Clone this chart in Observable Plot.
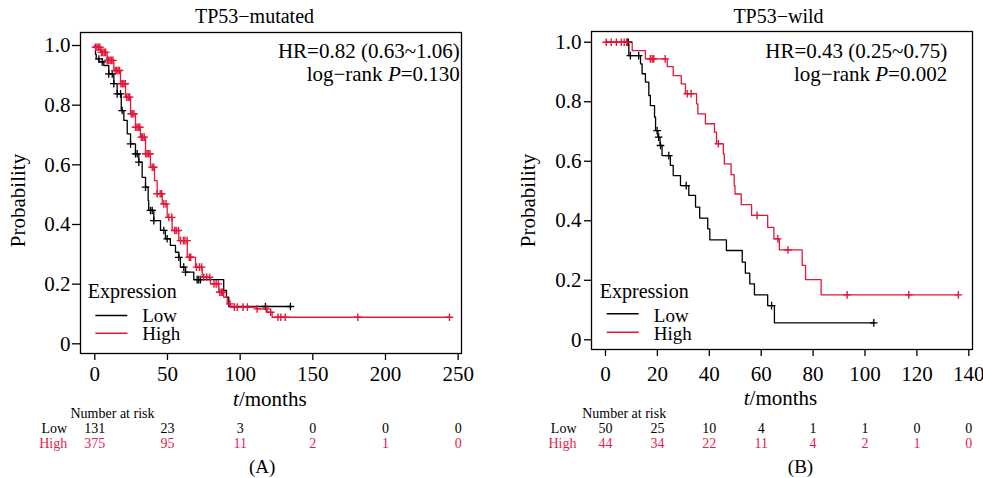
<!DOCTYPE html>
<html><head><meta charset="utf-8">
<script src="https://cdn.jsdelivr.net/npm/d3@7"></script>
<script src="https://cdn.jsdelivr.net/npm/@observablehq/plot@0.6"></script>
<style>
body{margin:0;background:#fff;}
#wrap{position:relative;width:983px;height:478px;overflow:hidden;}
#wrap svg{position:absolute;top:0;}
#wrap svg text{font-family:"Liberation Serif",serif !important;}
</style></head><body><div id="wrap"></div>
<script>
// ---------- Panel A: TP53-mutated ----------
const aTitle = "TP53−mutated";
const aHR = "HR=0.82 (0.63~1.06)";
const aP = "0.130";
const aLowT = [0,0.5,1,3,6.2,9.6,13.1,15.4,18.2,20,22.3,24.6,28,30.3,32.6,34.9,36.7,37.1,40.6,45.2,48.6,52,55.5,57.8,58.9,62.4,68.1,88.7,90.6,92.2,134.6];
const aLowS = [1,0.97,0.955,0.945,0.933,0.905,0.872,0.838,0.782,0.749,0.704,0.670,0.637,0.609,0.558,0.525,0.48,0.447,0.413,0.38,0.352,0.33,0.307,0.29,0.257,0.24,0.215,0.179,0.156,0.125,0.125];
const aHighT = [0,0.5,3.9,8.5,13.1,17.7,21.1,24.6,28,31.4,34.9,38.3,41.1,42.9,46.4,49.8,53.2,57.8,63.6,69.3,73.9,79.6,85.3,88.7,91.1,93.4,111.7,118.6,122,244];
const aHighS = [1,0.994,0.977,0.95,0.916,0.872,0.827,0.771,0.726,0.693,0.637,0.592,0.547,0.503,0.469,0.424,0.38,0.346,0.29,0.257,0.223,0.201,0.173,0.156,0.134,0.123,0.117,0.106,0.089,0.089];
const aLowCensor = [2.8,5.1,9.6,12,13.1,15.4,17.7,18.8,24.6,28,29.2,30.3,34.9,38.3,39.5,40.6,47.5,49.8,57.8,61.2,62.4,70.4,71.5,72.7,117.4,134.6];
const aHighCensor = [0.5,1.5,2.5,3.5,4.5,5.5,6.5,7.5,8.5,9.5,10.5,11.5,12.5,14,15,16,17,18,19,20,21,22,23,24,25,26,27,28,29,30,31,32,33,34,35,36,37,38,39.5,40.6,42.9,45,46,47.5,49,50.9,53,55,56,57.5,59,61,62,63.5,65,66,70,72,73.5,75,77,79,82,83.5,85,86,87,88,93,96,98,102,105,111.7,118,121,126,128,131,181,244];
const aRiskTimes = [0,50,100,150,200,250];
const aRiskLow = [131,23,3,0,0,0];
const aRiskHigh = [375,95,11,2,1,0];
const aXTicks = [0,50,100,150,200,250];

// ---------- Panel B: TP53-wild ----------
const bTitle = "TP53−wild";
const bHR = "HR=0.43 (0.25~0.75)";
const bP = "0.002";
const bLowT = [0,9,13.5,14.1,15.4,16.7,17.3,18.9,19.3,20.2,21,21.8,25,26.1,28.9,32.1,34.7,36.3,39.4,40.2,46.6,52.7,53.9,55.6,57.4,62.5,65.1,103.4];
const bLowS = [1,0.955,0.927,0.894,0.866,0.821,0.787,0.748,0.703,0.681,0.653,0.619,0.586,0.552,0.518,0.485,0.446,0.409,0.373,0.336,0.3,0.261,0.224,0.188,0.151,0.115,0.057,0.057];
const bHighT = [0,10.3,15.4,23.8,26.1,29.2,30.8,35.1,35.6,38.5,42,42.8,45.4,45.8,48.4,49.6,49.9,52.3,56.3,62.5,64.9,67,75.8,77.1,83.1,136];
const bHighS = [1,0.972,0.944,0.918,0.888,0.86,0.827,0.793,0.759,0.726,0.698,0.659,0.625,0.591,0.555,0.518,0.49,0.454,0.418,0.378,0.339,0.302,0.25,0.202,0.151,0.151];
const bLowCensor = [8.3,8.8,9.6,12.8,19.9,20.5,21.2,24.4,31.1,64,103.4];
const bHighCensor = [0.3,2.2,4.2,6.1,7.2,8.2,17.3,18,18.6,23,31.5,33,43.5,58.4,66.4,70.3,93.1,116.9,136];
const bRiskTimes = [0,20,40,60,80,100,120,140];
const bRiskLow = [50,25,10,4,1,1,0,0];
const bRiskHigh = [44,34,22,11,4,2,1,0];
const bXTicks = [0,20,40,60,80,100,120,140];

const yTicks = [0,0.2,0.4,0.6,0.8,1.0];
const groups = ["Low","High"];

// ---------- styling ----------
const LOW = "#000000", HIGH = "#e3173a", HIGH_TXT = "#e2234e";
const FONT = "Liberation Serif";

const plusSymbol = {draw(ctx, size){const r = Math.sqrt(size/Math.PI); ctx.moveTo(-r,0); ctx.lineTo(r,0); ctx.moveTo(0,-r); ctx.lineTo(0,r);}};
const dashSymbol = {draw(ctx, size){const r = Math.sqrt(size/Math.PI); ctx.moveTo(-r,0); ctx.lineTo(r,0);}};

function rows(T,S){return T.map((t,i)=>({t, s:S[i]}));}
function surv(T,S,t){let v=S[0]; for(let i=0;i<T.length;i++){ if(T[i]<=t) v=S[i]; else break;} return v;}

function panel(cfg){
  const L = cfg.lay;
  const low = rows(cfg.lowT, cfg.lowS), high = rows(cfg.highT, cfg.highS);
  const lowC = cfg.lowC.map(t=>({t, s:surv(cfg.lowT,cfg.lowS,t)}));
  const highC = cfg.highC.map(t=>({t, s:surv(cfg.highT,cfg.highS,t)}));
  const txt = (s, o) => Plot.text([s], {text: d=>d, fill:"#000", lineAnchor:"middle", fontFamily: FONT, ...o});
  return Plot.plot({
    width: L.width, height: 478,
    marginTop: L.mt, marginRight: L.mr, marginBottom: L.mb, marginLeft: L.ml,
    style: {fontFamily: FONT, background: "transparent", color: "#000", overflow: "visible"},
    x: {domain: L.xd}, y: {domain: L.yd},
    marks: [
      Plot.frame({stroke:"#000", strokeWidth:1.3}),
      Plot.axisY({ticks: yTicks, tickFormat: d => d === 0 ? "0" : d3.format(".1f")(d), tickSize: L.yts, tickPadding: L.ytp, fontSize: 21, fontFamily: FONT, strokeWidth: 1.3, label: null}),
      Plot.axisX({ticks: cfg.xTicks, tickFormat: d => String(d), tickSize: 7, tickPadding: L.xtp, fontSize: 21, fontFamily: FONT, strokeWidth: 1.3, label: null}),
      Plot.line(low, {x:"t", y:"s", curve:"step-after", stroke: LOW, strokeWidth: 1.3}),
      Plot.line(high, {x:"t", y:"s", curve:"step-after", stroke: HIGH, strokeWidth: 1.3}),
      Plot.dot(lowC, {x:"t", y:"s", r: 3.8, symbol: plusSymbol, stroke: LOW, fill: "none", strokeWidth: 1.3}),
      Plot.dot(highC, {x:"t", y:"s", r: 3.8, symbol: plusSymbol, stroke: HIGH, fill: "none", strokeWidth: 1.4}),
      // title and statistics
      txt(cfg.title, {frameAnchor:"top", textAnchor:"middle", dx:L.tdx, dy:L.tdy, fontSize:20}),
      txt(cfg.hr, {frameAnchor:"top-right", textAnchor:"end", dx:L.hdx, dy:L.hdy, fontSize:21}),
      txt("log−rank P=" + cfg.p, {frameAnchor:"top-right", textAnchor:"end", dx:L.hdx, dy:L.hdy+23, fontSize:21}),
      // legend
      txt("Expression", {frameAnchor:"bottom-left", textAnchor:"start", dx:L.edx, dy:L.edy, fontSize:20}),
      Plot.dot([groups[0]], {frameAnchor:"bottom-left", dx:L.ldx, dy:L.l1, r:16, symbol: dashSymbol, stroke: LOW, strokeWidth:1.4, fill:"none"}),
      Plot.dot([groups[1]], {frameAnchor:"bottom-left", dx:L.ldx, dy:L.l2, r:16, symbol: dashSymbol, stroke: HIGH, strokeWidth:1.4, fill:"none"}),
      txt(groups[0], {frameAnchor:"bottom-left", textAnchor:"start", dx:L.lt, dy:L.t1, fontSize:19}),
      txt(groups[1], {frameAnchor:"bottom-left", textAnchor:"start", dx:L.lt, dy:L.t2, fontSize:19}),
      // axis titles
      txt("Probability", {frameAnchor:"left", textAnchor:"middle", rotate:-90, dx:L.pdx, dy:L.pdy, fontSize:21}),
      txt("t/months", {frameAnchor:"bottom", textAnchor:"middle", dx:L.mdx, dy:L.mdy, fontSize:21}),
      // number at risk table
      txt("Number at risk", {frameAnchor:"bottom-left", textAnchor:"start", dx:L.ndx, dy:L.ndy, fontSize:14}),
      txt(groups[0], {frameAnchor:"bottom-left", textAnchor:"end", dx:L.rdx, dy:L.ndy+15, fontSize:14}),
      Plot.text([groups[1]], {text:d=>d, frameAnchor:"bottom-left", textAnchor:"end", dx:L.rdx, dy:L.ndy+30.6, fontSize:14, fontFamily: FONT, fill:HIGH_TXT, lineAnchor:"middle"}),
      Plot.text(cfg.riskT, {x: d=>d, text: (d,i)=>String(cfg.riskLow[i]), frameAnchor:"bottom", dy:L.ndy+15, fontSize:14, fontFamily: FONT, fill:"#000", lineAnchor:"middle"}),
      Plot.text(cfg.riskT, {x: d=>d, text: (d,i)=>String(cfg.riskHigh[i]), frameAnchor:"bottom", dy:L.ndy+30.6, fontSize:14, fontFamily: FONT, fill:HIGH_TXT, lineAnchor:"middle"}),
      txt(cfg.tag, {frameAnchor:"bottom", textAnchor:"middle", dx:L.gdx, dy:L.gdy, fontSize:19})
    ]
  });
}

function italicize(svg){
  d3.select(svg).selectAll("text").each(function(){
    const s = this.textContent;
    if (s.startsWith("log−rank P=")) {
      const rest = s.slice("log−rank P".length);
      this.textContent = "";
      d3.select(this).append("tspan").text("log−rank ");
      d3.select(this).append("tspan").attr("font-style","italic").text("P");
      d3.select(this).append("tspan").text(rest);
    } else if (s === "t/months") {
      this.textContent = "";
      d3.select(this).append("tspan").attr("font-style","italic").text("t");
      d3.select(this).append("tspan").text("/months");
    }
  });
}

const layA = {width:491, mt:32, mr:30, mb:125, ml:80, xd:[-9.84,252.3], yd:[-0.0325,1.0436],
  yts:8, ytp:2, xtp:6, tdx:-16.5, tdy:-16, hdx:-1.7, hdy:19, edx:7.3, edy:-62, ldx:30.85, l1:-38, l2:-20.3, lt:61.7, t1:-38, t2:-19.5,
  pdx:-62.7, pdy:7.5, mdx:-1.2, mdy:45.3, ndx:-10, ndy:59.7, rdx:-13.3, gdx:-8.8, gdy:113};
const layB = {width:492, mt:31, mr:11, mb:129, ml:100, xd:[-5.39,141.43], yd:[-0.0326,1.036],
  yts:7, ytp:3, xtp:10, tdx:-3.5, tdy:-15, hdx:-25.3, hdy:20, edx:8.3, edy:-58, ldx:31.2, l1:-35.7, l2:-17.3, lt:62.3, t1:-34, t2:-16,
  pdx:-63.7, pdy:10, mdx:-1.5, mdy:49, ndx:-9.3, ndy:63.7, rdx:-15, gdx:18.5, gdy:117};

const svgA = panel({lay:layA, title:aTitle, hr:aHR, p:aP, tag:"(A)", lowT:aLowT, lowS:aLowS, highT:aHighT, highS:aHighS,
  lowC:aLowCensor, highC:aHighCensor, riskT:aRiskTimes, riskLow:aRiskLow, riskHigh:aRiskHigh, xTicks:aXTicks});
const svgB = panel({lay:layB, title:bTitle, hr:bHR, p:bP, tag:"(B)", lowT:bLowT, lowS:bLowS, highT:bHighT, highS:bHighS,
  lowC:bLowCensor, highC:bHighCensor, riskT:bRiskTimes, riskLow:bRiskLow, riskHigh:bRiskHigh, xTicks:bXTicks});
italicize(svgA); italicize(svgB);
svgA.style.left = "0px"; svgB.style.left = "491px";
const wrap = document.getElementById("wrap");
wrap.appendChild(svgA); wrap.appendChild(svgB);
</script>
</body></html>
